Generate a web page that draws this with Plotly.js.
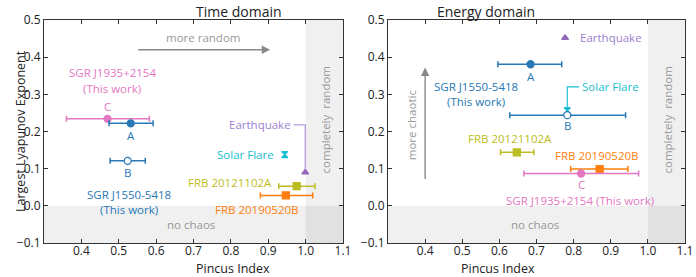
<!DOCTYPE html>
<html><head><meta charset="utf-8">
<script src="https://cdn.plot.ly/plotly-3.0.1.min.js"></script>
<style>body{margin:0;background:#fff}#c{width:696px;height:277px}</style>
</head><body><div id="c"></div>
<script>
// ---- Time domain (left) ----
const tSgrA = {x:[0.532], y:[0.222], lo:[0.474], hi:[0.592]};
const tSgrB = {x:[0.524], y:[0.121], lo:[0.477], hi:[0.571]};
const tSgrC = {x:[0.470], y:[0.234], lo:[0.360], hi:[0.582]};
const tFrbA = {x:[0.976], y:[0.053], lo:[0.928], hi:[1.025]};
const tFrbB = {x:[0.947], y:[0.028], lo:[0.879], hi:[1.019]};
const tQuake = {x:[0.999], y:[0.090]};
const tFlare = {x:[0.944], y:[0.138]};
// ---- Energy domain (right) ----
const eSgrA = {x:[0.684], y:[0.381], lo:[0.596], hi:[0.768]};
const eSgrB = {x:[0.783], y:[0.244], lo:[0.628], hi:[0.940]};
const eSgrC = {x:[0.820], y:[0.087], lo:[0.666], hi:[0.975]};
const eFrbA = {x:[0.647], y:[0.144], lo:[0.603], hi:[0.693]};
const eFrbB = {x:[0.870], y:[0.099], lo:[0.792], hi:[0.946]};
const eQuake = {x:[0.777], y:[0.452]};
const eFlare = {x:[0.783], y:[0.256]};
const xTicks = [0.4,0.5,0.6,0.7,0.8,0.9,1.0,1.1];
const yTicks = [-0.1,0.0,0.1,0.2,0.3,0.4,0.5];

const C = {blue:'#2878b5', pink:'#e377c2', olive:'#bcbd22', orange:'#ff7f0e', cyan:'#17becf', purple:'#9467bd', gray:'#999999'};
const FONT = 'Open Sans';

function eb(d, color, symbol, xa, ya, fill, size){
  return {type:'scatter', mode:'markers', x:d.x, y:d.y, xaxis:xa, yaxis:ya,
    marker:{color: fill||color, size:size||7, symbol:symbol, line:{color:color, width:1.3}},
    error_x: d.lo ? {type:'data', symmetric:false, array:d.hi.map((h,i)=>h-d.x[i]), arrayminus:d.x.map((v,i)=>v-d.lo[i]), color:color, thickness:1.5, width:3} : undefined,
    showlegend:false, hoverinfo:'skip'};
}
const traces = [
  eb(tSgrC, C.pink, 'circle','x','y'),
  eb(tSgrA, C.blue, 'circle','x','y'),
  eb(tSgrB, C.blue, 'circle','x','y','#ffffff'),
  eb(tFrbA, C.olive, 'square','x','y'),
  eb(tFrbB, C.orange, 'square','x','y'),
  eb(tQuake, C.purple, 'triangle-up','x','y',null,6),
  eb(tFlare, C.cyan, 'hourglass','x','y',null,6),
  eb(eSgrA, C.blue, 'circle','x2','y2'),
  eb(eFrbA, C.olive, 'square','x2','y2'),
  eb(eFrbB, C.orange, 'square','x2','y2'),
  eb(eSgrC, C.pink, 'circle','x2','y2'),
  eb(eQuake, C.purple, 'triangle-up','x2','y2',null,6),
  eb(eFlare, C.cyan, 'hourglass','x2','y2',null,6),
  eb(eSgrB, C.blue, 'circle','x2','y2','#ffffff'),
];

function xax(dom, anchor){
  return {domain:dom, anchor:anchor, range:[0.3,1.1], tickvals:xTicks, ticktext:xTicks.map(v=>v.toFixed(1)),
    ticks:'inside', ticklen:4, tickcolor:'#333', showline:true, linecolor:'#333', linewidth:1, mirror:'ticks',
    ticklabelstandoff:-3,
    showgrid:false, zeroline:false, tickfont:{size:12, color:'#222', family:FONT}};
}
function yax(anchor){
  return {domain:[0,1], anchor:anchor, range:[-0.1,0.5], tickvals:yTicks, ticktext:yTicks.map(v=>v.toFixed(1).replace('-0.1','\u22120.1')),
    ticks:'inside', ticklen:4, tickcolor:'#333', showline:true, linecolor:'#333', linewidth:1, mirror:'ticks',
    showgrid:false, zeroline:false, tickfont:{size:12, color:'#222', family:FONT}};
}
const shapes = [];
function bg(xr, yr){
  shapes.push({type:'rect', xref:xr, yref:yr, x0:0.3, x1:1.1, y0:-0.1, y1:0, fillcolor:'rgba(0,0,0,0.06)', line:{width:0}, layer:'below'});
  shapes.push({type:'rect', xref:xr, yref:yr, x0:1.0, x1:1.1, y0:-0.1, y1:0.5, fillcolor:'rgba(0,0,0,0.06)', line:{width:0}, layer:'below'});
}
bg('x','y'); bg('x2','y2');
// connectors
shapes.push({type:'path', xref:'x', yref:'y', path:'M 0.968 0.218 L 0.999 0.218 L 0.999 0.10', line:{color:'#b79de0', width:1.3}});
shapes.push({type:'path', xref:'x2', yref:'y2', path:'M 0.815 0.320 L 0.783 0.320 L 0.783 0.262', line:{color:C.cyan, width:1.1}});

function ann(xr, yr, x, y, text, color, opt){
  return Object.assign({xref:xr, yref:yr, x:x, y:y, text:text, showarrow:false, font:{size:11.5, color:color, family:FONT}, xanchor:'center', yanchor:'middle'}, opt||{});
}
const annotations = [
  {xref:'paper', yref:'paper', x:(44+343)/2/696, y:1, yshift:9, text:'Time domain', showarrow:false, font:{size:14, color:'#222', family:FONT}, yanchor:'middle'},
  {xref:'paper', yref:'paper', x:(388+685)/2/696, y:1, yshift:9, text:'Energy domain', showarrow:false, font:{size:14, color:'#222', family:FONT}, yanchor:'middle'},
  {xref:'paper', yref:'paper', x:(44+343)/2/696, y:0, yshift:-25, text:'Pincus Index', showarrow:false, font:{size:12.5, color:'#222', family:FONT}, yanchor:'middle'},
  {xref:'paper', yref:'paper', x:(388+685)/2/696, y:0, yshift:-25, text:'Pincus Index', showarrow:false, font:{size:12.5, color:'#222', family:FONT}, yanchor:'middle'},
  {xref:'paper', yref:'paper', x:0, xshift:10, y:0.5, text:'Largest Lyapunov Exponent', textangle:-90, showarrow:false, font:{size:12.5, color:'#222', family:FONT}},
  // left
  ann('x','y',0.725,0.452,'more random',C.gray),
  {xref:'x', yref:'y', axref:'x', ayref:'y', x:0.905, y:0.42, ax:0.548, ay:0.42, showarrow:true, arrowhead:2, arrowsize:1.2, arrowwidth:1.4, arrowcolor:'#888', text:''},
  ann('x','y',0.482,0.36,'SGR J1935+2154',C.pink),
  ann('x','y',0.482,0.315,'(This work)',C.pink),
  ann('x','y',0.470,0.268,'C',C.pink),
  ann('x','y',0.532,0.188,'A',C.blue),
  ann('x','y',0.524,0.089,'B',C.blue),
  ann('x','y',0.528,0.031,'SGR J1550-5418',C.blue),
  ann('x','y',0.528,-0.010,'(This work)',C.blue),
  ann('x','y',0.965,0.218,'Earthquake','#9b7fd0',{xanchor:'right'}),
  ann('x','y',0.922,0.138,'Solar Flare',C.cyan,{xanchor:'right'}),
  ann('x','y',0.915,0.063,'FRB 20121102A',C.olive,{xanchor:'right'}),
  ann('x','y',0.868,-0.010,'FRB 20190520B',C.orange),
  ann('x','y',0.694,-0.05,'no chaos',C.gray),
  ann('x','y',1.052,0.23,'completely  random',C.gray,{textangle:-90}),
  // right
  ann('x2','y2',0.684,0.349,'A',C.blue),
  ann('x2','y2',0.536,0.32,'SGR J1550-5418',C.blue),
  ann('x2','y2',0.536,0.282,'(This work)',C.blue),
  ann('x2','y2',0.783,0.215,'B',C.blue),
  ann('x2','y2',0.811,0.452,'Earthquake','#9b7fd0',{xanchor:'left'}),
  ann('x2','y2',0.817,0.320,'Solar Flare',C.cyan,{xanchor:'left'}),
  ann('x2','y2',0.628,0.181,'FRB 20121102A',C.olive),
  ann('x2','y2',0.861,0.136,'FRB 20190520B',C.orange),
  ann('x2','y2',0.820,0.058,'C',C.pink),
  ann('x2','y2',0.817,0.014,'SGR J1935+2154 (This work)',C.pink),
  {xref:'x2', yref:'y2', axref:'x2', ayref:'y2', x:0.4, y:0.372, ax:0.4, ay:0.068, showarrow:true, arrowhead:2, arrowsize:1.2, arrowwidth:1.4, arrowcolor:'#888', text:''},
  ann('x2','y2',0.362,0.217,'more chaotic',C.gray,{textangle:-90}),
  ann('x2','y2',0.695,-0.05,'no chaos',C.gray),
  ann('x2','y2',1.052,0.23,'completely  random',C.gray,{textangle:-90}),
];

const layout = {
  width:696, height:277, margin:{l:0, r:0, t:20, b:34},
  paper_bgcolor:'#fff', plot_bgcolor:'rgba(0,0,0,0)',
  font:{family:FONT},
  xaxis: xax([44/696, 343/696], 'y'),
  yaxis: yax('x'),
  xaxis2: xax([388/696, 685/696], 'y2'),
  yaxis2: yax('x2'),
  shapes: shapes, annotations: annotations, showlegend:false
};
Plotly.newPlot('c', traces, layout, {displayModeBar:false, staticPlot:true});
</script></body></html>
